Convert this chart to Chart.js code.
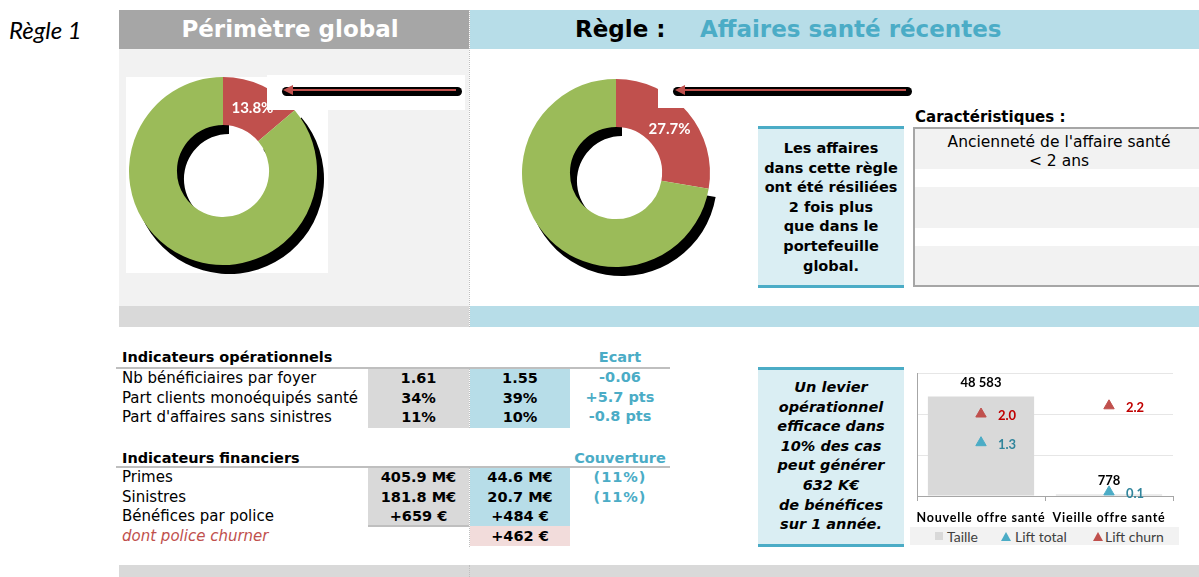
<!DOCTYPE html>
<html><head><meta charset="utf-8">
<script src="https://cdn.jsdelivr.net/npm/chart.js@4.4.1/dist/chart.umd.min.js"></script>
<style>
html,body{margin:0;padding:0;}
body{width:1199px;height:577px;position:relative;overflow:hidden;background:#fff;font-family:"DejaVu Sans",sans-serif;color:#000;}
.a{position:absolute;}
.hdr{font-weight:bold;font-size:23px;line-height:39px;white-space:nowrap;}
.lab{font-size:15px;white-space:nowrap;}
.val{font-weight:bold;font-size:14.5px;text-align:center;white-space:nowrap;}
.blue{color:#4bacc6;}
.call{background:#daeef3;border-top:3px solid #4bacc6;border-bottom:3px solid #4bacc6;box-sizing:border-box;text-align:center;font-weight:bold;font-size:14.5px;line-height:19.6px;white-space:nowrap;}
.dotv{border-left:1px dotted #bfbfbf;width:0;}
</style></head><body>

<div class="a" style="left:9px;top:14px;font-family:Lato;font-style:italic;font-size:24px;line-height:32px;">Règle 1</div>

<!-- top panels -->
<div class="a" style="left:119px;top:10px;width:350px;height:39px;background:#a6a6a6;"></div>
<div class="a hdr" style="left:115px;top:10px;width:350px;text-align:center;color:#fff;">Périmètre global</div>
<div class="a" style="left:470px;top:10px;width:729px;height:39px;background:#b7dde8;"></div>
<div class="a hdr" style="left:575px;top:10px;">Règle :</div>
<div class="a hdr" style="left:700px;top:10px;color:#4bacc6;">Affaires santé récentes</div>
<div class="a" style="left:119px;top:49px;width:350px;height:257px;background:#f2f2f2;"></div>
<div class="a" style="left:119px;top:306px;width:350px;height:21px;background:#d9d9d9;"></div>
<div class="a" style="left:470px;top:306px;width:729px;height:21px;background:#b7dde8;"></div>
<div class="a dotv" style="left:469px;top:10px;height:317px;"></div>

<!-- left donut -->
<div class="a" style="left:126px;top:77px;width:202px;height:196px;background:#fff;"></div>
<canvas id="donutGlobal" class="a" style="left:129px;top:77px;" width="200" height="200"></canvas>
<div class="a" style="left:267px;top:75px;width:198px;height:35px;background:#fff;"></div>
<div class="a" style="left:282px;top:87px;width:180px;height:9px;background:#000;border-radius:5px;"></div>
<div class="a" style="left:292px;top:89px;width:164px;height:2px;background:#c0504d;"></div>
<div class="a" style="left:283px;top:85px;width:0;height:0;border-top:5px solid transparent;border-bottom:5px solid transparent;border-right:10px solid #c0504d;"></div>

<!-- right donut -->
<canvas id="donutRule" class="a" style="left:522px;top:79px;" width="200" height="200"></canvas>
<div class="a" style="left:658px;top:70px;width:262px;height:38px;background:#fff;"></div>
<div class="a" style="left:673px;top:87px;width:239px;height:9px;background:#000;border-radius:5px;"></div>
<div class="a" style="left:684px;top:89px;width:222px;height:2px;background:#c0504d;"></div>
<div class="a" style="left:675px;top:85px;width:0;height:0;border-top:5px solid transparent;border-bottom:5px solid transparent;border-right:10px solid #c0504d;"></div>

<div class="a call" style="left:758px;top:126px;width:146px;height:162px;padding-top:10px;">Les affaires<br>dans cette règle<br>ont été résiliées<br>2 fois plus<br>que dans le<br>portefeuille<br>global.</div>

<div class="a" style="left:915px;top:108px;font-weight:bold;font-size:15px;line-height:19px;">Caractéristiques :</div>
<div class="a" style="left:913px;top:127px;width:292px;height:160px;border:2px solid #a6a6a6;box-sizing:border-box;background:#fff;overflow:hidden;">
  <div class="a" style="left:0;top:0;width:100%;height:40px;background:#f2f2f2;"></div>
  <div class="a" style="left:0;top:58px;width:100%;height:41px;background:#f2f2f2;"></div>
  <div class="a" style="left:0;top:117px;width:100%;height:41px;background:#f2f2f2;"></div>
  <div class="a" id="caracText" style="left:0;top:4px;width:100%;text-align:center;font-size:15.5px;line-height:19px;white-space:nowrap;"></div>
</div>

<!-- lower section -->
<div id="tables"></div>
<div class="a" style="left:119px;top:565px;width:1080px;height:12px;background:#d9d9d9;"></div>
<div class="a dotv" style="left:469px;top:565px;height:12px;"></div>

<div class="a call" style="left:758px;top:367px;width:146px;height:180px;padding-top:8px;font-style:italic;">Un levier<br>opérationnel<br>efficace dans<br>10% des cas<br>peut générer<br>632 K€<br>de bénéfices<br>sur 1 année.</div>

<canvas id="offerChart" class="a" style="left:910px;top:366px;" width="270" height="160"></canvas>
<div id="offerLegend" class="a" style="left:910px;top:527px;width:269px;height:18px;background:#f2f2f2;font-family:Lato;font-size:14px;color:#404040;"></div>

<script>
// ---------- data ----------
const donutLabels = ['Résiliées', 'Non résiliées'];
const globalShares = [13.8, 86.2];
const ruleShares = [27.7, 72.3];

const caracLines = ["Ancienneté de l'affaire santé", '< 2 ans'];

const opTitle = 'Indicateurs opérationnels';
const opLabels = ['Nb bénéficiaires par foyer', 'Part clients monoéquipés santé', "Part d'affaires sans sinistres"];
const opGlobal = ['1.61', '34%', '11%'];
const opRule = ['1.55', '39%', '10%'];
const opEcart = ['-0.06', '+5.7 pts', '-0.8 pts'];

const finTitle = 'Indicateurs financiers';
const finLabels = ['Primes', 'Sinistres', 'Bénéfices par police'];
const finGlobal = ['405.9 M€', '181.8 M€', '+659 €'];
const finRule = ['44.6 M€', '20.7 M€', '+484 €'];
const finCouv = ['(11%)', '(11%)', ''];
const churnLabel = 'dont police churner';
const churnRule = '+462 €';

const offerCategories = ['Nouvelle offre santé', 'Vieille offre santé'];
const tailleValues = [48583, 778];
const liftTotalValues = [1.3, 0.1];
const liftChurnValues = [2.0, 2.2];
const sizeTicks = [0, 20000, 40000, 60000];
const liftTicks = [0, 1, 2, 3];

// ---------- html tables ----------
document.getElementById('caracText').innerHTML = caracLines.join('<br>');

function cell(x, y, w, h, bg, extra) {
  return `<div class="a" style="left:${x}px;top:${y}px;width:${w}px;height:${h}px;background:${bg};${extra||''}"></div>`;
}
function txt(x, y, w, h, cls, content, extra) {
  return `<div class="a ${cls}" style="left:${x}px;top:${y}px;width:${w}px;height:${h}px;line-height:${h}px;${extra||''}">${content}</div>`;
}
let html = '';
// operational block
html += txt(122, 348, 300, 18, 'val', opTitle, 'text-align:left;');
html += txt(570, 348, 100, 18, 'val blue', 'Ecart');
html += cell(116, 367, 554, 2, '#bfbfbf');
const rh = 19.67;
html += cell(368, 369, 101, 3 * rh, '#d9d9d9');
html += cell(470, 369, 100, 3 * rh, '#b7dde8');
html += `<div class="a dotv" style="left:469px;top:369px;height:${3*rh}px;"></div>`;
opLabels.forEach((l, i) => {
  const y = 369 + i * rh;
  html += txt(122, y, 245, rh, 'lab', l);
  html += txt(368, y, 101, rh, 'val', opGlobal[i]);
  html += txt(470, y, 100, rh, 'val', opRule[i]);
  html += txt(570, y - 1, 100, rh, 'val blue', opEcart[i]);
});
// financial block
html += txt(122, 449, 300, 18, 'val', finTitle, 'text-align:left;');
html += txt(570, 449, 100, 18, 'val blue', 'Couverture');
html += cell(116, 466, 554, 2, '#bfbfbf');
const fh = 19.5;
html += cell(368, 468, 101, 3 * fh, '#d9d9d9', 'border-bottom:2px solid #bfbfbf;box-sizing:border-box;');
html += cell(470, 468, 100, 3 * fh - 1, '#b7dde8');
html += `<div class="a dotv" style="left:469px;top:468px;height:${3*fh+20}px;"></div>`;
finLabels.forEach((l, i) => {
  const y = 468 + i * fh;
  html += txt(122, y, 245, fh, 'lab', l);
  html += txt(368, y, 101, fh, 'val', finGlobal[i]);
  html += txt(470, y, 100, fh, 'val', finRule[i]);
  html += txt(570, y, 100, fh, 'val blue', finCouv[i], 'letter-spacing:1px;');
});
html += txt(122, 526, 245, 20, 'lab', churnLabel, 'font-style:italic;color:#c0504d;');
html += cell(470, 526, 100, 20, '#f2dcdb');
html += txt(470, 526, 100, 20, 'val', churnRule);
document.getElementById('tables').innerHTML = html;

// ---------- donuts ----------
const ringShadow = {
  id: 'ringShadow',
  beforeDatasetsDraw(chart) {
    const ctx = chart.ctx;
    const arc = chart.getDatasetMeta(0).data[1];
    const p = arc.getProps(['x', 'y', 'startAngle', 'endAngle', 'innerRadius', 'outerRadius'], true);
    ctx.save();
    ctx.fillStyle = '#000';
    ctx.beginPath();
    ctx.arc(p.x + 6, p.y + 8, p.outerRadius + 1, p.startAngle, p.endAngle);
    ctx.arc(p.x + 6, p.y + 8, p.innerRadius - 1, p.endAngle, p.startAngle, true);
    ctx.closePath();
    ctx.fill();
    ctx.restore();
  }
};
const pctLabel = {
  id: 'pctLabel',
  afterDatasetsDraw(chart) {
    const ctx = chart.ctx;
    const arc = chart.getDatasetMeta(0).data[0];
    const pos = arc.tooltipPosition();
    const v = chart.data.datasets[0].data[0];
    ctx.save();
    ctx.font = 'bold 15px Lato';
    ctx.fillStyle = '#fff';
    ctx.textAlign = 'center';
    ctx.textBaseline = 'middle';
    ctx.fillText(v.toFixed(1) + '%', pos.x, pos.y + 1);
    ctx.restore();
  }
};
function makeDonut(id, shares) {
  return new Chart(document.getElementById(id), {
    type: 'doughnut',
    data: { labels: donutLabels, datasets: [{ data: shares, backgroundColor: ['#c0504d', '#9bbb59'], borderWidth: 0 }] },
    options: {
      responsive: false, animation: false, cutout: '49%',
      layout: { padding: { left: 0, top: 0, right: 12, bottom: 12 } },
      plugins: { legend: { display: false }, tooltip: { enabled: false } }
    },
    plugins: [ringShadow, pctLabel]
  });
}
makeDonut('donutGlobal', globalShares);
makeDonut('donutRule', ruleShares);

// ---------- offer chart ----------
const labelColors = { 'Lift total': '#31859c', 'Lift churn': '#c00000' };
function thousands(v) { return String(v).replace(/\B(?=(\d{3})+(?!\d))/g, ' '); }
const spacing = {
  id: 'spacing',
  beforeDraw(chart) { chart.ctx.letterSpacing = '0.8px'; }
};
const valueLabels = {
  id: 'valueLabels',
  afterDatasetsDraw(chart) {
    const ctx = chart.ctx;
    chart.data.datasets.forEach((ds, i) => {
      chart.getDatasetMeta(i).data.forEach((el, j) => {
        const v = ds.data[j];
        ctx.save();
        ctx.letterSpacing = '0px';
        ctx.font = 'bold 13px Lato';
        ctx.textAlign = 'center';
        ctx.textBaseline = 'middle';
        if (ds.type === 'bar') {
          ctx.fillStyle = '#000';
          ctx.fillText(thousands(v), el.x, el.y - 14);
        } else {
          ctx.fillStyle = labelColors[ds.label];
          ctx.fillText(v.toFixed(1), el.x + 26, el.y + 2);
        }
        ctx.restore();
      });
    });
  }
};
const offerChart = new Chart(document.getElementById('offerChart'), {
  data: {
    labels: offerCategories,
    datasets: [
      { type: 'bar', label: 'Taille', data: tailleValues, backgroundColor: '#d9d9d9', yAxisID: 'y',
        barPercentage: 0.83, categoryPercentage: 1, pointStyle: 'rect', order: 3 },
      { type: 'line', label: 'Lift total', data: liftTotalValues, yAxisID: 'y1', showLine: false,
        pointStyle: 'triangle', pointRadius: 6, backgroundColor: '#4bacc6', borderColor: '#4bacc6', borderWidth: 1, order: 1 },
      { type: 'line', label: 'Lift churn', data: liftChurnValues, yAxisID: 'y1', showLine: false,
        pointStyle: 'triangle', pointRadius: 6, backgroundColor: '#c0504d', borderColor: '#c0504d', borderWidth: 1, order: 2 }
    ]
  },
  options: {
    responsive: false, animation: false,
    layout: { padding: { left: 6, top: 6, right: 3, bottom: 0 } },
    scales: {
      x: {
        grid: { display: true, drawOnChartArea: false, color: '#a6a6a6', tickLength: 5, offset: true },
        border: { color: '#a6a6a6' },
        ticks: { font: { family: 'Lato', size: 12.5, weight: 'bold' }, color: '#000', padding: 9, maxRotation: 0 },
        afterFit(s) { s.height = 30; }
      },
      y: {
        min: sizeTicks[0], max: sizeTicks[sizeTicks.length - 1],
        afterBuildTicks(s) { s.ticks = sizeTicks.map(v => ({ value: v })); },
        ticks: { display: false },
        grid: { color: '#e6e6e6', drawTicks: false },
        border: { display: true, color: '#a6a6a6' }
      },
      y1: {
        min: liftTicks[0], max: liftTicks[liftTicks.length - 1], display: false, position: 'right'
      }
    },
    plugins: { legend: { display: false }, tooltip: { enabled: false } }
  },
  plugins: [spacing, valueLabels]
});

// html legend built from the chart's own datasets
const legendLefts = [25, 91, 183];
const lg = document.getElementById('offerLegend');
lg.innerHTML = offerChart.data.datasets.map((ds, i) => {
  const color = ds.backgroundColor;
  const mark = ds.pointStyle === 'triangle'
    ? `<span style="display:inline-block;width:0;height:0;border-left:5px solid transparent;border-right:5px solid transparent;border-bottom:9px solid ${color};margin-right:${i === 2 ? 2 : 4}px;"></span>`
    : `<span style="display:inline-block;width:8px;height:8px;background:${color};margin-right:4px;"></span>`;
  return `<span style="position:absolute;left:${legendLefts[i]}px;top:0;height:18px;display:flex;align-items:center;white-space:nowrap;">${mark}<span>${ds.label}</span></span>`;
}).join('');
</script>
</body></html>
